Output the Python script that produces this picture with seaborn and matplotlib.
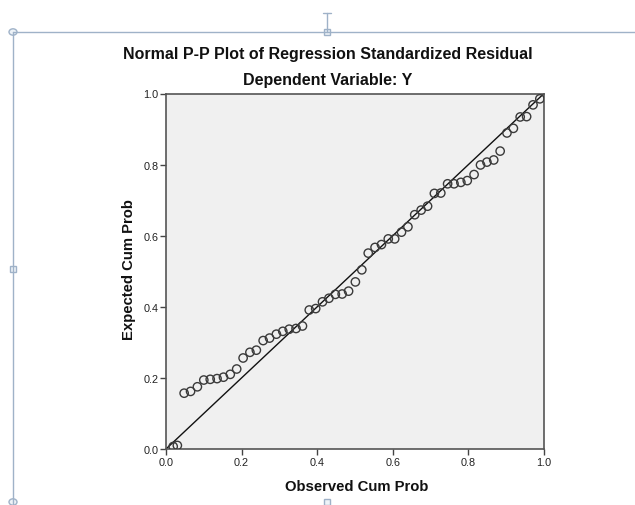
import numpy as np
import pandas as pd
import seaborn as sns
import matplotlib.pyplot as plt
from matplotlib.lines import Line2D
from matplotlib.patches import Rectangle, Circle

# observed vs expected cumulative probabilities
observed = [0.019, 0.030, 0.048, 0.065, 0.083, 0.100, 0.117, 0.135, 0.152, 0.170,
            0.187, 0.204, 0.222, 0.239, 0.257, 0.274, 0.292, 0.309, 0.326, 0.344,
            0.361, 0.379, 0.396, 0.414, 0.431, 0.448, 0.466, 0.483, 0.501, 0.518,
            0.535, 0.553, 0.570, 0.588, 0.605, 0.623, 0.640, 0.658, 0.675, 0.692,
            0.710, 0.727, 0.745, 0.762, 0.780, 0.797, 0.815, 0.832, 0.849, 0.867,
            0.884, 0.902, 0.919, 0.937, 0.954, 0.971, 0.989]
expected = [0.007, 0.010, 0.157, 0.162, 0.175, 0.194, 0.196, 0.198, 0.202, 0.210,
            0.225, 0.256, 0.272, 0.278, 0.305, 0.312, 0.323, 0.331, 0.337, 0.339,
            0.346, 0.391, 0.395, 0.414, 0.424, 0.435, 0.436, 0.444, 0.470, 0.504,
            0.551, 0.567, 0.575, 0.591, 0.591, 0.610, 0.625, 0.659, 0.672, 0.683,
            0.719, 0.720, 0.746, 0.746, 0.750, 0.755, 0.772, 0.799, 0.807, 0.813,
            0.838, 0.889, 0.902, 0.934, 0.935, 0.968, 0.985]
diag_x = [0.0, 1.0]
diag_y = [0.0, 1.0]
ticks = [0.0, 0.2, 0.4, 0.6, 0.8, 1.0]
tick_labels = ["0.0", "0.2", "0.4", "0.6", "0.8", "1.0"]

df = pd.DataFrame({"observed": observed, "expected": expected})
line_df = pd.DataFrame({"x": diag_x, "y": diag_y})

sns.set_style("white")
plt.rcParams["font.family"] = ["Liberation Sans", "DejaVu Sans"]

W, H = 635, 506
fig = plt.figure(figsize=(W / 100, H / 100), dpi=100)
ax = fig.add_axes([166 / W, 1 - 450 / H, 378 / W, 355.5 / H])
ax.set_facecolor("#f0f0f0")

sns.lineplot(data=line_df, x="x", y="y", ax=ax, color="#111111", linewidth=1.0)
sns.scatterplot(data=df, x="observed", y="expected", ax=ax, s=36,
                facecolor="none", edgecolor="#3a3a3a", linewidth=1.0, zorder=3)

ax.set_xlim(0, 1)
ax.set_ylim(0, 1)
ax.set_xticks(ticks)
ax.set_xticklabels(tick_labels)
ax.set_yticks(ticks)
ax.set_yticklabels(tick_labels)
ax.tick_params(axis="both", direction="out", length=4, width=1, color="#444444",
               labelsize=7.8, labelcolor="#222222", pad=1.5,
               bottom=True, left=True)
for sp in ax.spines.values():
    sp.set_color("#555555")
    sp.set_linewidth(1.2)
ax.set_xlabel("")
ax.set_ylabel("")

fig.text(328 / W, 1 - 54 / H, "Normal P-P Plot of Regression Standardized Residual",
         ha="center", va="center", fontsize=11.5, fontweight="bold", color="#111111")
fig.text(328 / W, 1 - 81 / H, "Dependent Variable: Y",
         ha="center", va="center", fontsize=11.5, fontweight="bold", color="#111111")
fig.text(357 / W, 1 - 487 / H, "Observed Cum Prob",
         ha="center", va="center", fontsize=10.7, fontweight="bold", color="#111111")
fig.text(129 / W, 1 - 270 / H, "Expected Cum Prob", rotation=90,
         ha="center", va="center", fontsize=10.7, fontweight="bold", color="#111111")

# selection frame of the embedded picture
frame_c = "#9fb2c8"
fig.add_artist(Line2D([13 / W, 1.0], [1 - 33 / H, 1 - 33 / H], color=frame_c, lw=1))
fig.add_artist(Line2D([13 / W, 13 / W], [0.0, 1 - 33 / H], color=frame_c, lw=1))
fig.add_artist(Line2D([327 / W, 327 / W], [1 - 14 / H, 1 - 33 / H], color=frame_c, lw=1))
fig.add_artist(Line2D([323 / W, 331 / W], [1 - 14 / H, 1 - 14 / H], color=frame_c, lw=1))
for cx, cy in [(13, 33), (13, 503)]:
    fig.add_artist(Circle((cx / W, 1 - cy / H), 4 / W, transform=fig.transFigure,
                          facecolor="#eef3f8", edgecolor=frame_c, lw=1))
for cx, cy in [(327, 33), (13, 270), (327, 503)]:
    fig.add_artist(Rectangle(((cx - 3) / W, 1 - (cy + 3) / H), 6 / W, 6 / H,
                             transform=fig.transFigure, facecolor="#eef3f8",
                             edgecolor=frame_c, lw=1))

fig.savefig("out.png", dpi=100, facecolor="white")
